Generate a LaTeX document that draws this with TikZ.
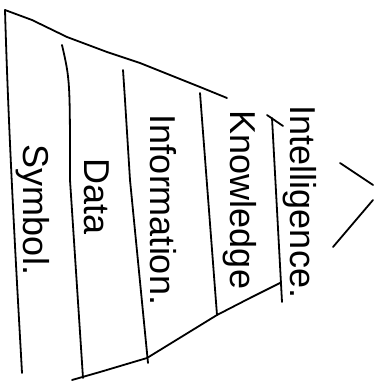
\documentclass[tikz,border=0pt]{standalone}
\usepackage{fontspec}
\setmainfont{Liberation Sans}
\usetikzlibrary{positioning}
\definecolor{Ink}{HTML}{000000}
\tikzset{
  edge/.style={draw=Ink,line width=1.8pt,line cap=round,line join=round},
  word/.style={rotate=-90,inner sep=0pt,text=Ink,font=\fontsize{36}{42}\selectfont},
}

\begin{document}
\begin{tikzpicture}[x=1pt,y=-1pt]
  \useasboundingbox (0,0) rectangle (382,382);
  % outline of the pyramid
  \coordinate (topL) at (5,10);
  \coordinate (botL) at (22,373);
  \draw[edge] (topL) .. controls (9,150) and (18,300) .. (botL);
  \draw[edge] (topL) -- (32,20) -- (67,37) -- (107,52) -- (140,63) -- (200,87) -- (227,98);
  \draw[edge] (72,380) -- (100,372) -- (147,358) -- (217,315) -- (250,298) -- (280,283);

  % layer borders
  \draw[edge] (62,45) .. controls (70,80) .. (70,180) -- (83,378);
  \draw[edge] (123,70) -- (125,100) -- (130,180) -- (148,363);
  \draw[edge] (200,93) -- (217,315);
  \draw[edge] (272,118) -- (282,302);
  \draw[edge] (267,115) -- (283,126);

  % apex
  \draw[edge] (340,163) -- (373,185);
  \draw[edge] (373,200) -- (333,247);

  % layer names
  \node[word] (intel)  at (300,202) {Intelligence.};
  \node[word] (know)   at (240,200) {Knowledge};
  \node[word] (inform) at (163,210) {Information.};
  \node[word] (data)   at (97,197)  {Data};
  \node[word] (symbol) at (33,210)  {Symbol.};
\end{tikzpicture}
\end{document}
